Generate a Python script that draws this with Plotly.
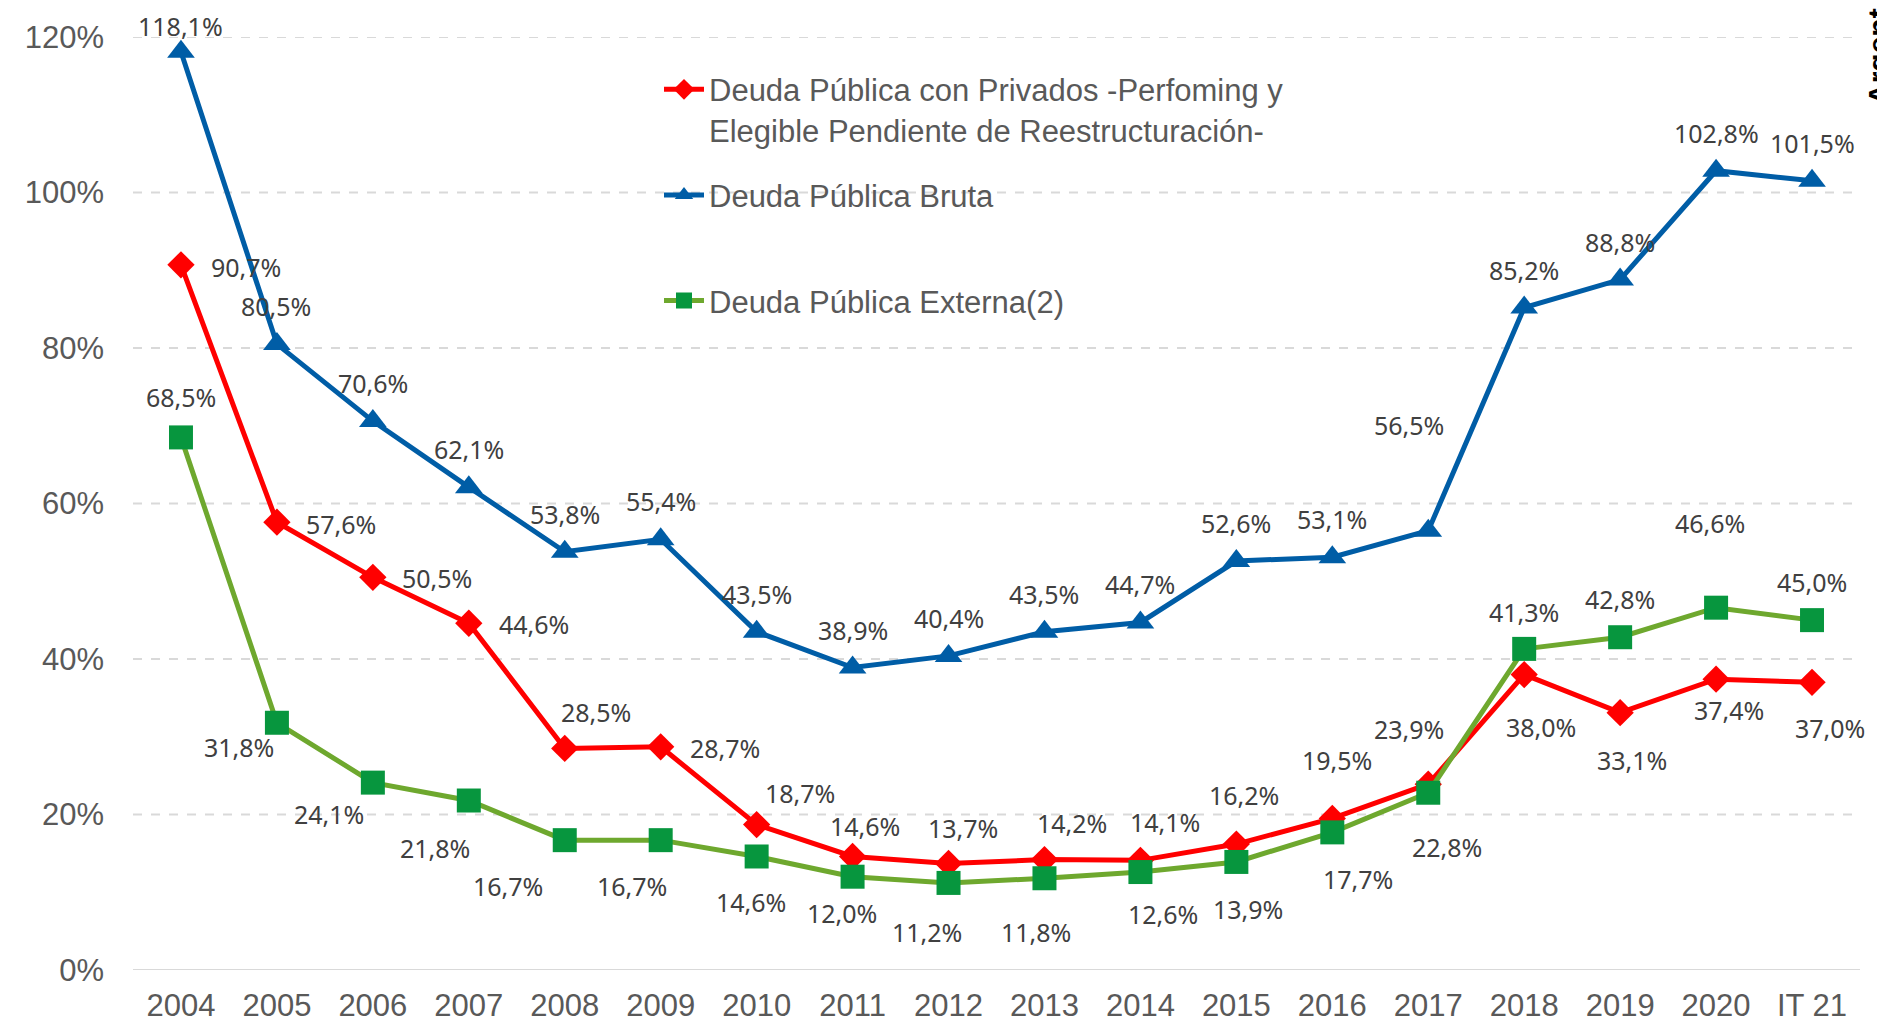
import plotly.graph_objects as go

categories = ["2004", "2005", "2006", "2007", "2008", "2009", "2010", "2011", "2012",
              "2013", "2014", "2015", "2016", "2017", "2018", "2019", "2020", "IT 21"]
privados = [90.7, 57.6, 50.5, 44.6, 28.5, 28.7, 18.7, 14.6, 13.7, 14.2, 14.1, 16.2, 19.5, 23.9, 38.0, 33.1, 37.4, 37.0]
bruta = [118.1, 80.5, 70.6, 62.1, 53.8, 55.4, 43.5, 38.9, 40.4, 43.5, 44.7, 52.6, 53.1, 56.5, 85.2, 88.8, 102.8, 101.5]
externa = [68.5, 31.8, 24.1, 21.8, 16.7, 16.7, 14.6, 12.0, 11.2, 11.8, 12.6, 13.9, 17.7, 22.8, 41.3, 42.8, 46.6, 45.0]
y_ticks = [0, 20, 40, 60, 80, 100, 120]
y_tick_labels = ["0%", "20%", "40%", "60%", "80%", "100%", "120%"]

name_priv = "Deuda Pública con Privados -Perfoming y<br>Elegible Pendiente de Reestructuración-"
name_bruta = "Deuda Pública Bruta<br> "
name_ext = "Deuda Pública Externa(2)"
side_title = "Argentina"

# label offsets in pixels (dx right, dy down)
off_bruta = [(0, -26), (-1, -38), (0, -38), (0, -38), (0, -38), (0, -38), (0, -38), (0, -38), (0, -38),
             (0, -38), (0, -38), (0, -38), (0, -38), (-19, -106), (0, -38), (0, -38), (0, -38), (0, -38)]
off_priv = [(65, 2), (64, 2), (64, 1), (65, 1), (31, -36), (64, 1), (43, -32), (12, -30), (14, -35),
            (28, -37), (25, -38), (8, -49), (5, -58), (-19, -55), (17, 52), (12, 47), (13, 31), (18, 46)]
off_ext = [(0, -40), (-38, 24), (-44, 31), (-34, 47), (-57, 46), (-29, 46), (-6, 46), (-11, 36), (-22, 49),
           (-8, 54), (23, 42), (12, 47), (26, 47), (19, 54), (0, -37), (0, -38), (-6, -85), (0, -38)]

RED = "#FF0000"
BLUE = "#005DA6"
GREEN_LINE = "#6EA82E"
GREEN_MK = "#07963E"
LABEL_C = "#404040"
AXIS_C = "#595959"
GRID_C = "#D9D9D9"

fig = go.Figure()
fig.add_trace(go.Scatter(x=categories, y=bruta, name=name_bruta, mode="lines+markers",
                         line=dict(color=BLUE, width=5), legendrank=2, legendgroup="b",
                         marker=dict(symbol="triangle-up", size=24, color=BLUE)))
fig.add_trace(go.Scatter(x=categories, y=privados, name=name_priv, mode="lines+markers",
                         line=dict(color=RED, width=5), legendrank=1, legendgroup="a",
                         marker=dict(symbol="diamond", size=21, color=RED)))
fig.add_trace(go.Scatter(x=categories, y=externa, name=name_ext, mode="lines+markers",
                         line=dict(color=GREEN_LINE, width=5), legendrank=3, legendgroup="c",
                         marker=dict(symbol="square", size=24, color=GREEN_MK)))

LABEL_FONT = dict(family="Noto Sans Condensed, Noto Sans, sans-serif", size=25, color=LABEL_C)
annotations = []
for vals, offs in ((bruta, off_bruta), (privados, off_priv), (externa, off_ext)):
    for i, (v, (dx, dy)) in enumerate(zip(vals, offs)):
        annotations.append(dict(x=i, y=v, xref="x", yref="y", text=f"{v:.1f}%".replace(".", ","),
                                showarrow=False, xshift=dx, yshift=-dy, font=LABEL_FONT))

L, R, T, B = 125, 33, 28, 54
PW = 1885 - L - R
PH = 1027 - T - B
# side title, rotated to read upwards, partly beyond the right edge as in the source
annotations.append(dict(x=1.0, y=1.0, xref="paper", yref="paper", xshift=1870 - (L + PW), yshift=2,
                        text=side_title, textangle=-90, xanchor="center", yanchor="middle",
                        showarrow=False,
                        font=dict(family="Liberation Sans, Arial, sans-serif", size=30,
                                  color="#000000", weight="bold")))

shapes = []
for v in y_ticks[1:]:
    shapes.append(dict(type="line", xref="paper", yref="y", x0=0, x1=1, y0=v, y1=v,
                       line=dict(color=GRID_C, width=2, dash="dash"), layer="below"))
shapes.append(dict(type="line", xref="paper", yref="y", x0=0, x1=1, y0=0, y1=0,
                   line=dict(color=GRID_C, width=2), layer="below"))

fig.update_layout(
    width=1885, height=1027,
    margin=dict(l=L, r=R, t=T, b=B),
    paper_bgcolor="white", plot_bgcolor="white",
    showlegend=True,
    legend=dict(x=(651 - L) / PW, y=(1027 - B - 54) / PH, xanchor="left", yanchor="top",
                bgcolor="rgba(0,0,0,0)",
                font=dict(family="Liberation Sans, Arial, sans-serif", size=31, color=AXIS_C),
                valign="top", tracegroupgap=22, itemwidth=40),
    xaxis=dict(type="category", range=[-0.5, 17.5], showgrid=False, zeroline=False, showline=False,
               ticks="", tickfont=dict(family="Liberation Sans Narrow, Liberation Sans, Arial, sans-serif",
                                       size=31, color=AXIS_C),
               ticklabelstandoff=14),
    yaxis=dict(range=[0, 120], tickvals=y_ticks, ticktext=y_tick_labels, showgrid=False, zeroline=False,
               showline=False, ticks="", ticklabelstandoff=28,
               tickfont=dict(family="Liberation Sans, Arial, sans-serif", size=31, color=AXIS_C)),
    annotations=annotations,
    shapes=shapes,
)

fig.write_html("out.html")
